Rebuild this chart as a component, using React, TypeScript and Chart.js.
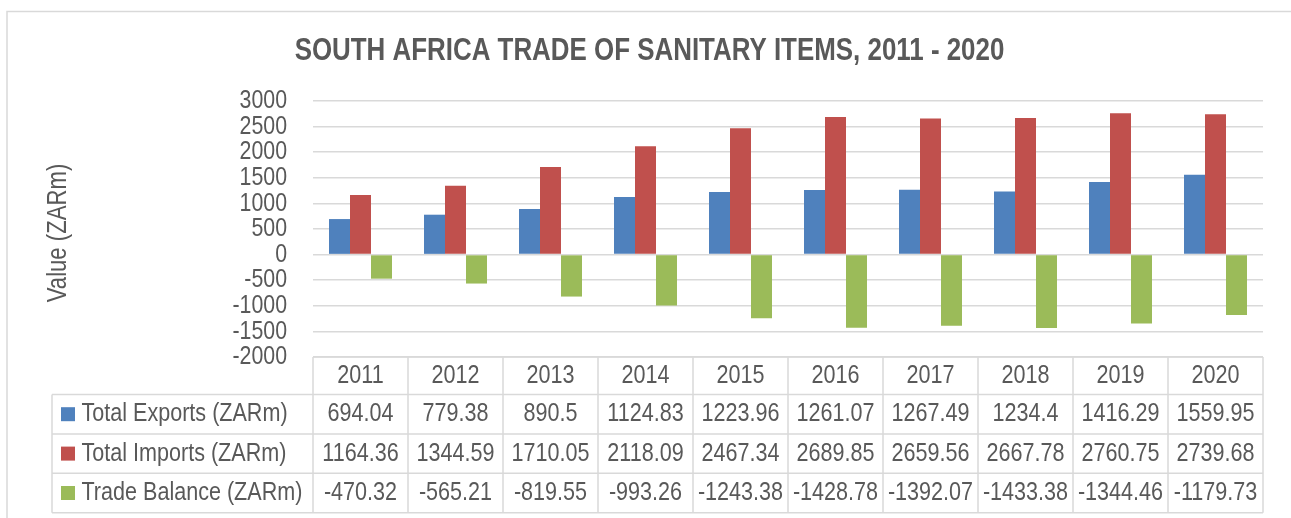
import React, { useEffect, useRef } from "react";
import { Chart, registerables } from "chart.js";

Chart.register(...registerables);

// ---- Data ----
const years = ["2011", "2012", "2013", "2014", "2015", "2016", "2017", "2018", "2019", "2020"];
const exportsVals = [694.04, 779.38, 890.5, 1124.83, 1223.96, 1261.07, 1267.49, 1234.4, 1416.29, 1559.95];
const importsVals = [1164.36, 1344.59, 1710.05, 2118.09, 2467.34, 2689.85, 2659.56, 2667.78, 2760.75, 2739.68];
const balanceVals = [-470.32, -565.21, -819.55, -993.26, -1243.38, -1428.78, -1392.07, -1433.38, -1344.46, -1179.73];
const seriesNames = ["Total Exports (ZARm)", "Total Imports (ZARm)", "Trade Balance (ZARm)"];
const seriesColors = ["#4F81BD", "#C0504D", "#9BBB59"];
const titleText = "SOUTH AFRICA TRADE OF SANITARY ITEMS, 2011 - 2020";
const yTitle = "Value (ZARm)";
const yMin = -2000;
const yMax = 3000;
const yStep = 500;

// ---- Styles ----
const FONT = "'Liberation Sans', Arial, sans-serif";
const NARROW = 0.82; // emulate Arial Narrow by horizontal compression
const TEXT = "#595959";
const LINE = "#d9d9d9";

function narrowText(
  ctx: CanvasRenderingContext2D,
  text: string,
  x: number,
  y: number,
  align: CanvasTextAlign,
  font: string,
  rotate = 0
) {
  ctx.save();
  ctx.translate(x, y);
  if (rotate) ctx.rotate(rotate);
  ctx.scale(NARROW, 1);
  ctx.font = font;
  ctx.textAlign = align;
  ctx.textBaseline = "middle";
  ctx.fillText(text, 0, 0);
  ctx.restore();
}

const framePlugin = {
  id: "frame",
  beforeDraw(chart: any) {
    const ctx = chart.ctx;
    ctx.save();
    ctx.fillStyle = "#ffffff";
    ctx.fillRect(0, 0, chart.width, chart.height);
    ctx.strokeStyle = LINE;
    ctx.lineWidth = 1.5;
    ctx.beginPath();
    ctx.moveTo(7, chart.height + 5);
    ctx.lineTo(7, 11.5);
    ctx.lineTo(chart.width + 5, 11.5);
    ctx.stroke();
    ctx.restore();
  },
};

const textPlugin = {
  id: "narrowTexts",
  afterDraw(chart: any) {
    const ctx = chart.ctx;
    const y = chart.scales.y;
    ctx.save();
    ctx.fillStyle = TEXT;
    // title
    narrowText(ctx, chart.options.plugins.narrowTexts.title, 649.5, 51, "center", `bold 31.6px ${FONT}`);
    // y tick labels (from the library's own ticks)
    y.ticks.forEach((t: any) => {
      narrowText(ctx, String(t.value), y.right - 26, y.getPixelForValue(t.value), "right", `26px ${FONT}`);
    });
    // y axis title
    const midY = (y.top + y.bottom) / 2 + 4;
    narrowText(ctx, chart.options.plugins.narrowTexts.yTitle, 58.5, midY, "center", `27px ${FONT}`, -Math.PI / 2);
    ctx.restore();
  },
};

const dataTablePlugin = {
  id: "dataTable",
  afterDraw(chart: any) {
    const { ctx, chartArea } = chart;
    const xScale = chart.scales.x;
    const labels: string[] = chart.data.labels;
    const n = labels.length;
    const colW = (chartArea.right - chartArea.left) / n;
    const top = chartArea.bottom;
    const headerH = 37.5;
    const rowH = 39.4;
    const labelLeft = 52;
    const datasets = chart.data.datasets;
    const tableBottom = top + headerH + rowH * datasets.length;
    const font = `26.3px ${FONT}`;

    ctx.save();
    ctx.strokeStyle = LINE;
    ctx.lineWidth = 1.5;

    ctx.beginPath();
    ctx.moveTo(chartArea.left, top);
    ctx.lineTo(chartArea.right, top);
    ctx.stroke();

    for (let r = 0; r <= datasets.length; r++) {
      const yy = top + headerH + r * rowH;
      ctx.beginPath();
      ctx.moveTo(labelLeft, yy);
      ctx.lineTo(chartArea.right, yy);
      ctx.stroke();
    }

    for (let i = 0; i <= n; i++) {
      const xx = chartArea.left + i * colW;
      ctx.beginPath();
      ctx.moveTo(xx, top);
      ctx.lineTo(xx, tableBottom);
      ctx.stroke();
    }
    ctx.beginPath();
    ctx.moveTo(labelLeft, top + headerH);
    ctx.lineTo(labelLeft, tableBottom);
    ctx.stroke();

    ctx.fillStyle = TEXT;
    for (let i = 0; i < n; i++) {
      const cx = xScale.getPixelForValue(i);
      narrowText(ctx, labels[i], cx, top + headerH / 2, "center", font);
      datasets.forEach((ds: any, r: number) => {
        const cy = top + headerH + r * rowH + rowH / 2;
        narrowText(ctx, String(ds.data[i]), cx, cy, "center", font);
      });
    }

    datasets.forEach((ds: any, r: number) => {
      const cy = top + headerH + r * rowH + rowH / 2;
      ctx.fillStyle = ds.backgroundColor;
      ctx.fillRect(61, cy - 7, 14, 14);
      ctx.fillStyle = TEXT;
      narrowText(ctx, ds.label, 81.5, cy, "left", font);
    });
    ctx.restore();
  },
};

export default function App() {
  const ref = useRef<HTMLCanvasElement>(null);

  useEffect(() => {
    if (!ref.current) return;
    const chart = new Chart(ref.current, {
      type: "bar",
      data: {
        labels: years,
        datasets: [
          { label: seriesNames[0], data: exportsVals, backgroundColor: seriesColors[0] },
          { label: seriesNames[1], data: importsVals, backgroundColor: seriesColors[1] },
          { label: seriesNames[2], data: balanceVals, backgroundColor: seriesColors[2] },
        ],
      },
      options: {
        animation: false,
        responsive: false,
        maintainAspectRatio: false,
        datasets: {
          bar: { categoryPercentage: 0.663, barPercentage: 1 },
        },
        layout: { padding: { left: 36, right: 28, top: 101, bottom: 161 } },
        plugins: {
          legend: { display: false },
          tooltip: { enabled: false },
          title: { display: false },
          narrowTexts: { title: titleText, yTitle: yTitle },
        },
        scales: {
          x: { display: false, grid: { display: false } },
          y: {
            min: yMin,
            max: yMax,
            ticks: { stepSize: yStep, display: false },
            grid: { color: LINE, lineWidth: 1.5, drawTicks: false },
            border: { display: false },
            afterFit(scale: any) {
              scale.width = 277;
              scale.paddingTop = 0;
              scale.paddingBottom = 0;
            },
          },
        },
      } as any,
      plugins: [framePlugin, dataTablePlugin, textPlugin],
    });
    return () => chart.destroy();
  }, []);

  return (
    <div style={{ position: "absolute", left: 0, top: 0, width: 1291, height: 518, background: "#fff" }}>
      <canvas ref={ref} width={1291} height={518} style={{ width: 1291, height: 518, display: "block" }} />
    </div>
  );
}
